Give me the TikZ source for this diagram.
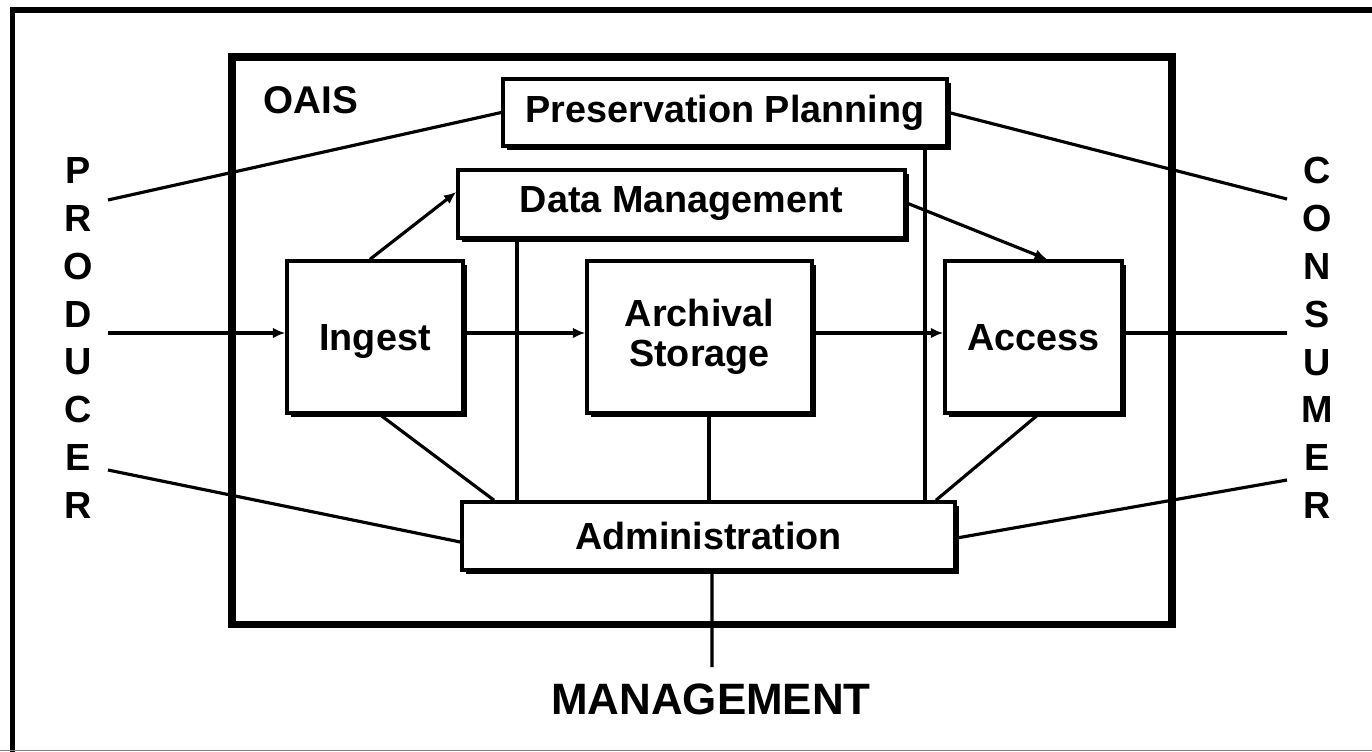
\documentclass[tikz,border=0pt]{standalone}
\usepackage{fontspec}
\setmainfont{Liberation Sans}
\usetikzlibrary{arrows.meta,shadows,calc}
\begin{document}
\begin{tikzpicture}[x=0.02cm,y=-0.02cm,
  box/.style={draw, line width=2pt, fill=white,
    font=\fontsize{21.5}{22.7}\selectfont\bfseries, align=center, inner sep=0pt,
    drop shadow={shadow xshift=2.5pt, shadow yshift=-2.5pt, opacity=1, fill=black}},
  conn/.style={line width=1.8pt},
  arr/.style={conn, -{Latex[length=7pt,width=6pt]}},
  side/.style={font=\fontsize{21.5}{27.2}\selectfont\bfseries, align=center, inner sep=0pt},
  lbl/.style={inner sep=0pt, font=\bfseries}]

\useasboundingbox (0,0) rectangle (1372,751);
% outer frame
\draw[line width=3pt] (1390,10) -- (12.5,10) -- (12.5,760);
\draw[gray, line width=1pt] (0,750.5) -- (1372,750.5);

% OAIS frame
\draw[line width=4.4pt] (232,57) rectangle (1172,624.5);
\node[lbl, font=\fontsize{22}{24}\selectfont\bfseries] (oais) at (311,100) {OAIS};

% functional boxes
\node[box, minimum width=8.88cm, minimum height=1.34cm] (pp) at (725,112.5) {Preservation Planning};
\node[box, minimum width=8.94cm, minimum height=1.36cm] (dm) at (681.5,204) {Data Management};
\node[box, minimum width=3.52cm, minimum height=3.04cm, text depth=0pt] (ingest) at (375,337) {Ingest};
\node[box, minimum width=4.5cm, minimum height=3.04cm] (arch) at (699.5,337) {Archival\\Storage};
\node[box, minimum width=3.54cm, minimum height=3.04cm, text depth=0pt] (access) at (1033.5,337) {Access};
\node[box, minimum width=9.86cm, minimum height=1.36cm] (admin) at (708.5,536) {Administration};

% external entities
\node[side] (producer) at (78,338) {P\\R\\O\\D\\U\\C\\E\\R};
\node[side] (consumer) at (1317,338) {C\\O\\N\\S\\U\\M\\E\\R};
\node[lbl, font=\fontsize{25}{27}\selectfont\bfseries] (mgmt) at (711,699) {MANAGEMENT};

\coordinate (p1) at (108,200);
\coordinate (p2) at (108,333);
\coordinate (p3) at (108,470);
\coordinate (c1) at (1287,199);
\coordinate (c2) at (1287,333);
\coordinate (c3) at (1287,480);
\coordinate (m1) at (712,667);

% producer side
\draw[conn] (p1) -- (pp.west);
\draw[arr] (p2) -- (p2 -| ingest.west);
\draw[conn] (p3) -- ([yshift=-0.12cm]admin.west);
% consumer side
\draw[conn] (pp.east) -- (c1);
\draw[conn] (c2 -| access.east) -- (c2);
\draw[conn] ([yshift=-0.04cm]admin.east) -- (c3);
% internal flows
\draw[arr] ([xshift=-0.1cm]ingest.north) -- ([yshift=0.24cm]dm.west);
\draw[arr] (p2 -| ingest.east) -- (p2 -| arch.west);
\draw[arr] (p2 -| arch.east) -- (p2 -| access.west);
\draw[arr] ([yshift=0.02cm]dm.east) -- ([xshift=0.27cm]access.north);
% links to administration
\draw[conn] ([xshift=0.1cm]ingest.south) -- ([xshift=-4.29cm]admin.north);
\coordinate (dmx) at ([xshift=-3.29cm]dm.south);
\draw[conn] (dmx) -- (dmx |- admin.north);
\coordinate (arx) at ([xshift=0.19cm]arch.south);
\draw[conn] (arx) -- (arx |- admin.north);
\coordinate (ppx) at ([xshift=4cm]pp.south);
\draw[conn] (ppx) -- (ppx |- admin.north);
\draw[conn] ([xshift=0.09cm]access.south) -- ([xshift=4.55cm]admin.north);
\draw[conn] ([xshift=0.07cm]admin.south) -- (m1);
\end{tikzpicture}
\end{document}
